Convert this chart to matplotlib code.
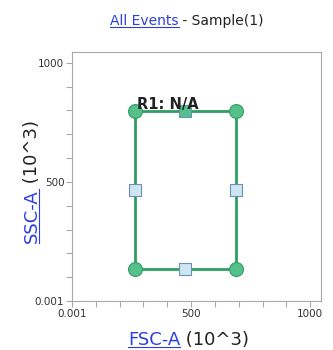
import matplotlib
matplotlib.use("Agg")
import matplotlib.pyplot as plt
from matplotlib.lines import Line2D

# gate R1 (rectangle) in data units (10^3)
gate_x = [264, 688]
gate_y = [133, 796]
x_ticks = [0, 500, 1000]
x_tick_labels = ['0.001', '500', '1000']
y_ticks = [0, 500, 1000]
y_tick_labels = ['0.001', '500', '1000']
gate_name = 'R1: N/A'

link = '#2b3fe0'
green = '#2f9e62'
green_fill = '#55c08a'
blue_fill = '#cde6f2'
blue_edge = '#6e8fb5'

plt.rcParams['font.family'] = ['DejaVu Sans']

fig = plt.figure(figsize=(3.33, 3.5), dpi=100)
ax = fig.add_axes([72/333, 1-301/350, 249/333, 249/350])
ax.set_xlim(0, 1045)
ax.set_ylim(0, 1045)
for s in ax.spines.values():
    s.set_color('#a8a8a8')
    s.set_linewidth(0.8)
ax.set_xticks(x_ticks)
ax.set_xticklabels(x_tick_labels, fontsize=7.5, color='#333333')
ax.set_yticks(y_ticks)
ax.set_yticklabels(y_tick_labels, fontsize=7.5, color='#333333')
ax.set_xticks(range(0, 1001, 100), minor=True)
ax.set_yticks(range(0, 1001, 100), minor=True)
ax.tick_params(which='both', color='#a8a8a8', length=4, width=0.8, pad=1.5)

x0, x1 = gate_x
y0, y1 = gate_y
xm = (x0 + x1) / 2
ym = (y0 + y1) / 2
ax.plot([x0, x1, x1, x0, x0], [y0, y0, y1, y1, y0], color=green, lw=2, zorder=2)
ax.scatter([x0, x1, x1, x0], [y0, y0, y1, y1], s=100, color=green_fill,
           edgecolor=green, linewidth=0.8, zorder=3)
ax.scatter([x0, x1, xm], [ym, ym, y0], marker='s', s=85, color=blue_fill,
           edgecolor=blue_edge, linewidth=0.8, zorder=3)
ax.scatter([xm], [y1], marker='s', s=85, color=green_fill,
           edgecolor=blue_edge, linewidth=0.8, zorder=4)
ax.text(x0 + 8, y1 + 10, gate_name, fontsize=10.5, fontweight='bold',
        color='#222222', ha='left', va='baseline', zorder=5)

fig.canvas.draw()
r = fig.canvas.get_renderer()


def link_text(x, y, parts, size, rot=0):
    # parts: list of (text, is_link); x, y in figure pixels (start of text)
    for txt, is_link in parts:
        t = fig.text(x / 333, 1 - y / 350, txt, fontsize=size, rotation=rot,
                     color=link if is_link else '#222222',
                     ha='left', va='baseline', rotation_mode='anchor')
        bb = t.get_window_extent(r)
        if rot == 0:
            w = bb.width
            if is_link:
                fig.add_artist(Line2D([x / 333, (x + w) / 333],
                                      [1 - (y + 2) / 350] * 2,
                                      color=link, lw=0.8))
            x += w
        else:
            h = bb.height
            if is_link:
                fig.add_artist(Line2D([(x + 2) / 333] * 2,
                                      [1 - y / 350, 1 - (y - h) / 350],
                                      color=link, lw=0.8))
            y -= h


link_text(110, 25, [('All Events', True), (' - Sample(1)', False)], 10)
link_text(128, 345, [('FSC-A', True), (' (10^3)', False)], 13)
link_text(37, 243, [('SSC-A', True), (' (10^3)', False)], 13, rot=90)

fig.savefig('out.png', dpi=100)
